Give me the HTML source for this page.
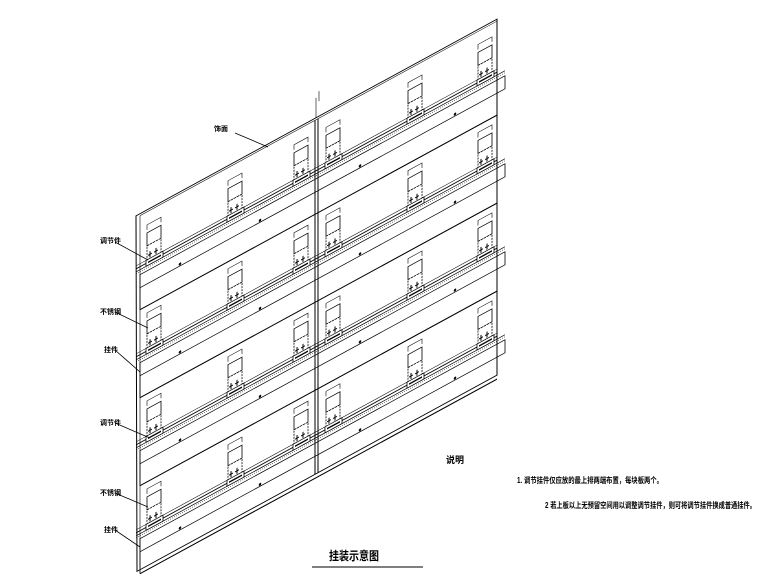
<!DOCTYPE html>
<html><head><meta charset="utf-8"><style>
html,body{margin:0;padding:0;background:#fff;width:780px;height:585px;overflow:hidden}
svg{display:block}
text{font-family:"Liberation Sans","Noto Sans CJK SC",sans-serif;font-weight:bold;fill:#000}
</style></head><body>
<svg width="780" height="585" viewBox="0 0 780 585" xmlns="http://www.w3.org/2000/svg">
<defs>
<g id="br" fill="#fff" stroke="#000" stroke-width="0.8">
  <path d="M0,-34 V-39 H14 V-34" fill="none" stroke-width="0.6"/>
  <rect x="0" y="-31" width="14" height="13"/>
  <rect x="0" y="-18" width="14" height="16" stroke-dasharray="2,1"/>
  <path d="M3,-11 V-5 M1,-8 H5 M9,-11 V-5 M7,-8 H11" stroke-width="1"/>
  <rect x="-1" y="-4" width="17" height="6"/>
  <path d="M1,-1 H14" stroke-width="1.5"/>
</g>
<g id="rail" fill="none" stroke="#000">
  <path d="M136,-6 H497" stroke-width="0.6"/>
  <path d="M136,-3 H497" stroke-width="1"/>
  <path d="M136,0 H505" stroke-width="0.8"/>
  <path d="M136,2 H505" stroke-width="0.5" stroke-dasharray="1,1"/>
  <path d="M140,5 H505 V18 H140 Z" stroke-width="0.8"/>
  <path d="M140,18 V40" stroke-width="0.8"/>
  <path d="M140,40 H497" stroke-width="1.2"/>
</g>
</defs>
<g transform="matrix(1,-0.545,0,1,0,0)">
  <path d="M136,290 H497 V646 H137 Z" fill="#fff" stroke="#000" stroke-width="1"/>
  <path d="M140,292 H497 M140,292 V644" fill="none" stroke="#000" stroke-width="0.6"/>
  <path d="M315,292 V646 M318,292 V646" stroke="#000" stroke-width="1"/>
  <path d="M316,290 V270 M319,275 V265" stroke="#000" stroke-width="0.6"/>
  <use href="#rail" transform="translate(0,346)"/>
  <use href="#rail" transform="translate(0,434)"/>
  <use href="#rail" transform="translate(0,522)"/>
  <use href="#rail" transform="translate(0,610)"/>
  <g fill="#000">
    <circle cx="180" cy="362" r="1.3"/><circle cx="260" cy="362" r="1.3"/><circle cx="360" cy="362" r="1.3"/><circle cx="455" cy="362" r="1.3"/>
    <circle cx="180" cy="450" r="1.3"/><circle cx="260" cy="450" r="1.3"/><circle cx="360" cy="450" r="1.3"/><circle cx="455" cy="450" r="1.3"/>
    <circle cx="180" cy="538" r="1.3"/><circle cx="260" cy="538" r="1.3"/><circle cx="360" cy="538" r="1.3"/><circle cx="455" cy="538" r="1.3"/>
    <circle cx="180" cy="626" r="1.3"/><circle cx="260" cy="626" r="1.3"/><circle cx="360" cy="626" r="1.3"/><circle cx="455" cy="626" r="1.3"/>
  </g>
  <use href="#br" x="147" y="344"/><use href="#br" x="228" y="344"/><use href="#br" x="294" y="344"/>
  <use href="#br" x="326" y="344"/><use href="#br" x="408" y="344"/><use href="#br" x="478" y="344"/>
  <use href="#br" x="147" y="432"/><use href="#br" x="228" y="432"/><use href="#br" x="294" y="432"/>
  <use href="#br" x="326" y="432"/><use href="#br" x="408" y="432"/><use href="#br" x="478" y="432"/>
  <use href="#br" x="147" y="520"/><use href="#br" x="228" y="520"/><use href="#br" x="294" y="520"/>
  <use href="#br" x="326" y="520"/><use href="#br" x="408" y="520"/><use href="#br" x="478" y="520"/>
  <use href="#br" x="147" y="608"/><use href="#br" x="228" y="608"/><use href="#br" x="294" y="608"/>
  <use href="#br" x="326" y="608"/><use href="#br" x="408" y="608"/><use href="#br" x="478" y="608"/>
</g>
<g stroke="#000" stroke-width="0.8" fill="none">
  <path d="M235,133 L268,147"/>
  <path d="M115,242 L148,260"/>
  <path d="M115,312 L148,328"/>
  <path d="M115,350 L140,372"/>
  <path d="M115,423 L150,438"/>
  <path d="M115,493 L148,507"/>
  <path d="M115,530 L140,547"/>
  <path d="M312,567 H423" stroke="#555" stroke-width="1.5"/>
</g>
<g font-size="7">
  <text x="214" y="131">饰面</text>
  <text x="100" y="243">调节件</text>
  <text x="100" y="314">不锈钢</text>
  <text x="104" y="352">挂件</text>
  <text x="100" y="425">调节件</text>
  <text x="100" y="495">不锈钢</text>
  <text x="104" y="532">挂件</text>
</g>
<text x="446" y="463" font-size="9">说明</text>
<text x="517" y="483" font-size="8" textLength="146" lengthAdjust="spacingAndGlyphs">1. 调节挂件仅应放的最上排两端布置，每块板两个。</text>
<text x="545" y="508" font-size="8" textLength="211" lengthAdjust="spacingAndGlyphs">2  若上板以上无预留空间用以调整调节挂件，则可将调节挂件换成普通挂件。</text>
<text x="329" y="560" font-size="12" font-weight="normal" textLength="50" lengthAdjust="spacingAndGlyphs">挂装示意图</text>
</svg>
</body></html>
